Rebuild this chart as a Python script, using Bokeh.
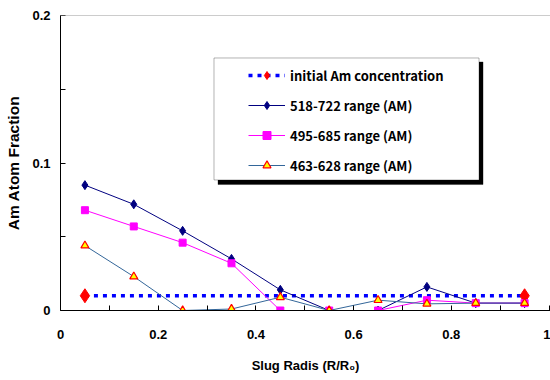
from bokeh.plotting import figure
from bokeh.models import Legend, LegendItem, BoxAnnotation, Span, FixedTicker, Range1d
from bokeh.embed import file_html
from bokeh.resources import INLINE

# ---- data ----
radius = [0.05, 0.15, 0.25, 0.35, 0.45, 0.55, 0.65, 0.75, 0.85, 0.95]
s518_722 = [0.085, 0.072, 0.054, 0.035, 0.014, 0.0, 0.0, 0.016, 0.005, 0.005]
s495_685 = [0.068, 0.057, 0.046, 0.032, 0.0, 0.0, 0.0, 0.007, 0.005, 0.005]
s463_628 = [0.044, 0.023, 0.0, 0.001, 0.009, 0.0, 0.007, 0.0045, 0.005, 0.005]
init_x = [0.05, 0.95]
init_y = [0.01, 0.01]
x_ticks = [0, 0.2, 0.4, 0.6, 0.8, 1.0]
y_ticks = [0, 0.1, 0.2]
labels = ["initial Am concentration", "518-722 range (AM)",
          "495-685 range (AM)", "463-628 range (AM)"]

p = figure(width=550, height=380, output_backend="svg", toolbar_location=None,
           x_range=Range1d(0, 1.003), y_range=Range1d(0, 0.2),
           min_border_left=60, min_border_right=0, min_border_top=15,
           min_border_bottom=70)
p.outline_line_color = None
p.xgrid.visible = False
p.ygrid.visible = False
p.background_fill_color = "white"

p.add_layout(Span(location=0.2, dimension="width", line_color="#999999", line_width=1))

TEAL = "#336699"
l_init = p.line(init_x, init_y, line_color="#0000FF", line_width=3.5, line_dash="4 5")
m_init = p.scatter(init_x, init_y, marker="diamond", size=14,
                   fill_color="#FF0000", line_color="#FF0000")
l1 = p.line(radius, s518_722, line_color="#000080", line_width=1)
m1 = p.scatter(radius, s518_722, marker="diamond", size=9,
               fill_color="#000080", line_color="#000080")
l2 = p.line(radius, s495_685, line_color="#FF00FF", line_width=1)
m2 = p.scatter(radius, s495_685, marker="square", size=7,
               fill_color="#FF00FF", line_color="#FF00FF")
l3 = p.line(radius, s463_628, line_color=TEAL, line_width=1)
m3 = p.scatter(radius, s463_628, marker="triangle", size=8,
               fill_color="#FFFF00", line_color="#FF0000", line_width=1.2)

# axes
for ax in (p.xaxis[0], p.yaxis[0]):
    ax.axis_line_color = "black"
    ax.major_tick_in = 5
    ax.major_tick_out = 0
    ax.minor_tick_in = 5
    ax.minor_tick_out = 0
    ax.major_tick_line_color = "black"
    ax.minor_tick_line_color = "black"
    ax.major_label_text_font = "Liberation Sans"
    ax.major_label_text_font_style = "bold"
    ax.major_label_text_font_size = "13px"
    ax.major_label_text_color = "black"
    ax.axis_label_text_font = "Liberation Sans"
    ax.axis_label_text_font_style = "bold"
    ax.axis_label_text_color = "black"

p.xaxis.ticker = FixedTicker(ticks=x_ticks, minor_ticks=[0.1, 0.3, 0.5, 0.7, 0.9])
p.yaxis.ticker = FixedTicker(ticks=y_ticks, minor_ticks=[0.05, 0.15])
p.xaxis.major_label_overrides = {0: "0", 0.2: "0.2", 0.4: "0.4", 0.6: "0.6", 0.8: "0.8", 1: "1"}
p.yaxis.major_label_overrides = {0: "0", 0.1: "0.1", 0.2: "0.2"}
p.xaxis.major_label_standoff = 19
p.yaxis.major_label_standoff = 10
p.xaxis.axis_label = "Slug Radis (R/R\u2080)"
p.xaxis.axis_label_text_font_size = "13px"
p.xaxis.axis_label_standoff = 16
p.yaxis.axis_label = "Am Atom Fraction"
p.yaxis.axis_label_text_font_size = "15.5px"
p.yaxis.axis_label_standoff = 7

# legend box with shadow
p.add_layout(BoxAnnotation(left=0.3224, right=0.8649, bottom=0.0854, top=0.1685,
                           fill_color="black", fill_alpha=1, line_color="black"))
p.add_layout(BoxAnnotation(left=0.3142, right=0.8567, bottom=0.0885, top=0.1712,
                           fill_color="white", fill_alpha=1, line_color="black",
                           line_width=1))

legend = Legend(items=[
    LegendItem(label=labels[0], renderers=[l_init, m_init]),
    LegendItem(label=labels[1], renderers=[l1, m1]),
    LegendItem(label=labels[2], renderers=[l2, m2]),
    LegendItem(label=labels[3], renderers=[l3, m3]),
], location=(188, 135))
legend.background_fill_alpha = 0
legend.border_line_alpha = 0
legend.padding = 0
legend.margin = 0
legend.spacing = 10
legend.glyph_width = 37
legend.glyph_height = 20
legend.label_height = 20
legend.label_standoff = 5
legend.label_text_font = "Noto Sans CJK KR"
legend.label_text_font_style = "bold"
legend.label_text_font_size = "13px"
legend.label_text_color = "black"
p.add_layout(legend)

open("out.html", "w").write(file_html(p, INLINE))
